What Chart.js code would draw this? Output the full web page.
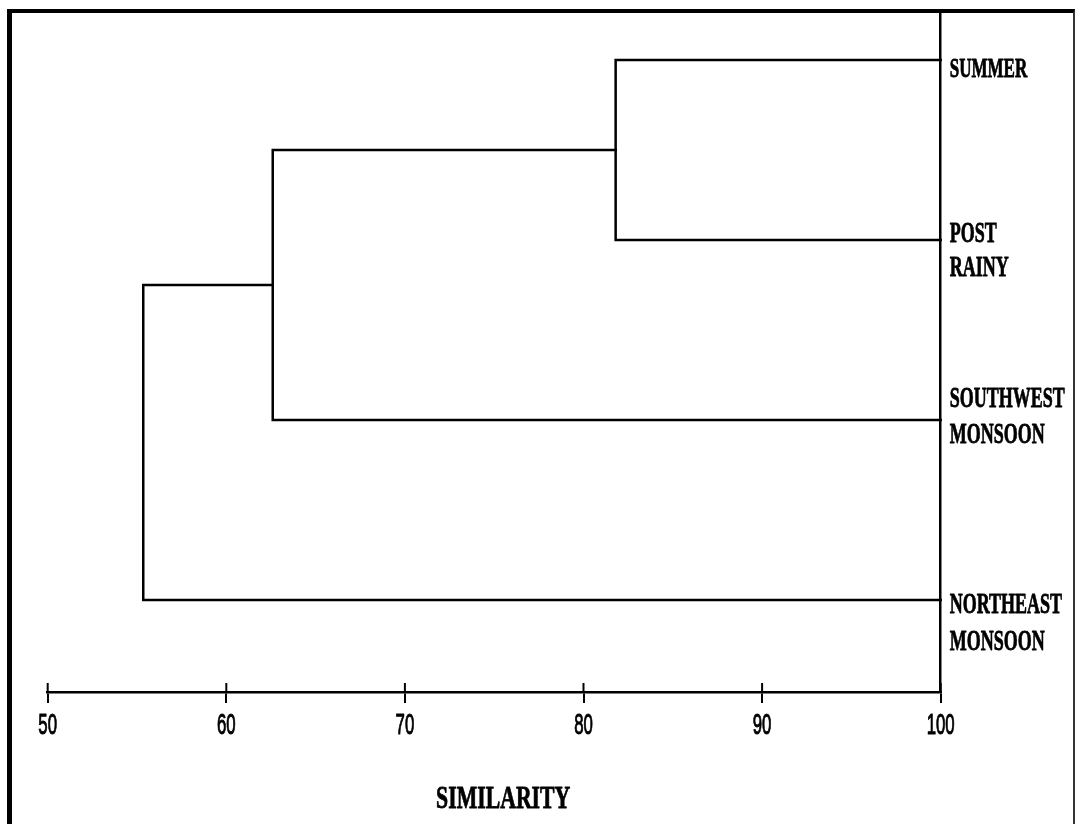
<!DOCTYPE html>
<html><head><meta charset="utf-8">
<script src="https://cdn.jsdelivr.net/npm/chart.js@4.4.1/dist/chart.umd.min.js"></script>
<style>
html,body{margin:0;padding:0;background:#fff;}
#wrap{position:relative;width:1075px;height:824px;overflow:hidden;background:#fff;}
#frame{position:absolute;left:7px;top:9px;right:0;bottom:-6px;border-left:5px solid #000;border-top:4px solid #000;border-right:2px solid #333;pointer-events:none;box-sizing:border-box;}
canvas{display:block;}
</style></head><body>
<div id="wrap"><canvas id="c" width="1075" height="824"></canvas><div id="frame"></div></div>
<script>
// ---- data ----
const leafLabels = [["SUMMER"], ["POST", "RAINY"], ["SOUTHWEST", "MONSOON"], ["NORTHEAST", "MONSOON"]];
const leafSimilarity = 100;
const mergePairs = [[0, 1], [4, 2], [5, 3]];          // indices >= 4 refer to earlier merges
const mergeSimilarity = [81.8, 62.6, 55.35];
const xTickMin = 50, xTickMax = 100, xTickStep = 10;
const axisTitle = "SIMILARITY";

// ---- layout / style config ----
const labelBaselineOffsets = [[17], [2, 36], [-13.5, 22.5], [13, 50]];
const labelFontSizes = [27, 30, 30, 30];
const labelScaleX = [0.63, 0.6, 0.6, 0.6];

// ---- build dendrogram ----
const nodes = leafLabels.map((l, i) => ({ x: leafSimilarity, y: i }));
mergePairs.forEach(([a, b], k) => {
  nodes.push({ x: mergeSimilarity[k], y: (nodes[a].y + nodes[b].y) / 2 });
});
const datasets = mergePairs.map(([a, b], k) => {
  const h = mergeSimilarity[k], A = nodes[a], B = nodes[b];
  return {
    data: [{ x: A.x, y: A.y }, { x: h, y: A.y }, { x: h, y: B.y }, { x: B.x, y: B.y }],
    borderColor: '#000', borderWidth: 2.5, pointRadius: 0, tension: 0, fill: false,
    clip: false, borderJoinStyle: 'miter', borderCapStyle: 'square'
  };
});

function drawScaled(ctx, text, x, y, font, sx, align, strokeW) {
  ctx.save();
  ctx.translate(x, y);
  ctx.scale(sx, 1);
  ctx.font = font;
  ctx.textAlign = align;
  ctx.textBaseline = 'alphabetic';
  ctx.fillStyle = '#000';
  ctx.fillText(text, 0, 0);
  if (strokeW) { ctx.strokeStyle = '#000'; ctx.lineWidth = strokeW; ctx.lineJoin = 'round'; ctx.strokeText(text, 0, 0); }
  ctx.restore();
}

const decor = {
  id: 'decor',
  beforeDraw(chart) {
    const ctx = chart.ctx;
    ctx.save(); ctx.fillStyle = '#fff'; ctx.fillRect(0, 0, chart.width, chart.height); ctx.restore();
  },
  afterDraw(chart) {
    const { ctx, scales: { x, y } } = chart;
    ctx.save();
    ctx.strokeStyle = '#000';
    ctx.lineWidth = 2;
    x.ticks.forEach(t => {
      const px = x.getPixelForValue(t.value);
      ctx.beginPath(); ctx.moveTo(px, x.top - 9); ctx.lineTo(px, x.top); ctx.stroke();
      drawScaled(ctx, String(t.value), px, x.top + 42, '30px "Liberation Sans", Arial, sans-serif', 0.56, 'center', 1);
    });
    ctx.restore();
    const lx = x.getPixelForValue(leafSimilarity) + 9;
    leafLabels.forEach((lines, i) => {
      const py = y.getPixelForValue(i);
      lines.forEach((txt, j) => {
        drawScaled(ctx, txt, lx, py + labelBaselineOffsets[i][j],
          'bold ' + labelFontSizes[i] + 'px "Liberation Serif", "Times New Roman", serif', labelScaleX[i], 'left', 0.8);
      });
    });
    drawScaled(ctx, axisTitle, (x.left + x.right) / 2 + 9, x.top + 116,
      'bold 32px "Liberation Serif", "Times New Roman", serif', 0.68, 'center', 0.8);
  }
};

new Chart(document.getElementById('c'), {
  type: 'line',
  data: { datasets },
  options: {
    responsive: false,
    animation: false,
    devicePixelRatio: 1,
    layout: { padding: { left: 47.7, right: 134.3, top: 12, bottom: 121 } },
    plugins: { legend: { display: false }, tooltip: { enabled: false } },
    scales: {
      x: {
        type: 'linear', position: 'bottom', min: xTickMin, max: xTickMax,
        ticks: { stepSize: xTickStep, display: false },
        grid: { display: true, drawOnChartArea: false, drawTicks: true, tickLength: 11, color: '#000', lineWidth: 2 },
        border: { display: true, color: '#000', width: 2.5 }
      },
      y: {
        type: 'linear', position: 'right', min: -0.267, max: 3.511, reverse: true,
        ticks: { display: false },
        grid: { display: false, drawTicks: false },
        border: { display: true, color: '#000', width: 2.5 }
      }
    }
  },
  plugins: [decor]
});
</script>
</body></html>
